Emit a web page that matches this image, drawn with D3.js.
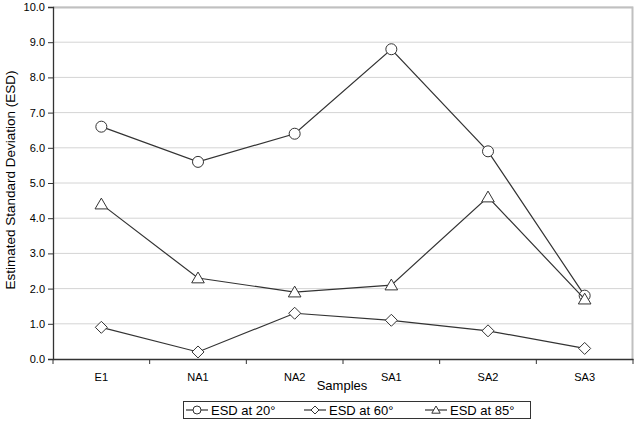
<!DOCTYPE html>
<html>
<head>
<meta charset="utf-8">
<script src="https://cdn.jsdelivr.net/npm/d3@7"></script>
<style>
  body { margin: 0; background: #fff; }
  text { font-family: "Liberation Sans", Arial, sans-serif; fill: #000; }
</style>
</head>
<body>
<div id="chart"></div>
<script>
const samples = ["E1", "NA1", "NA2", "SA1", "SA2", "SA3"];
const esd20 = [6.6, 5.6, 6.4, 8.8, 5.9, 1.8];
const esd60 = [0.9, 0.2, 1.3, 1.1, 0.8, 0.3];
const esd85 = [4.4, 2.3, 1.9, 2.1, 4.6, 1.7];
const yTicks = [0, 1, 2, 3, 4, 5, 6, 7, 8, 9, 10];

const series = [
  { name: "ESD at 20°", values: esd20, shape: "circle" },
  { name: "ESD at 60°", values: esd60, shape: "diamond" },
  { name: "ESD at 85°", values: esd85, shape: "triangle" }
];

const svgWidth = 636, svgHeight = 422;
const margin = { top: 7, right: 3, bottom: 63, left: 53 };
const width = svgWidth - margin.left - margin.right;
const height = svgHeight - margin.top - margin.bottom;

const svg = d3.select("#chart").append("svg")
  .attr("width", svgWidth)
  .attr("height", svgHeight);

const chart = svg.append("g")
  .attr("transform", `translate(${margin.left},${margin.top})`);

const x = d3.scaleBand().domain(samples).range([0, width]);
const y = d3.scaleLinear().domain([0, 10]).range([height, 0]);

// gridlines
chart.append("g").selectAll("line")
  .data(yTicks.slice(1))
  .join("line")
  .attr("x1", 0).attr("x2", width)
  .attr("y1", d => y(d)).attr("y2", d => y(d))
  .attr("stroke", "#d4d4d4").attr("stroke-width", 1);

// plot area border top/right
chart.append("path")
  .attr("d", `M0,0.5H${width - 0.5}V${height}`)
  .attr("fill", "none").attr("stroke", "#c0c0c0").attr("stroke-width", 2);

// y axis
const yAxis = chart.append("g")
  .call(d3.axisLeft(y).tickValues(yTicks).tickFormat(d3.format(".1f")).tickSize(5));
yAxis.select(".domain").attr("stroke", "#333").attr("stroke-width", 1.3);
yAxis.selectAll(".tick line").attr("stroke", "#333");
yAxis.selectAll("text").attr("font-size", 11).attr("x", -8)
  .style("font-family", "Liberation Sans, Arial, sans-serif");

// x axis
const xAxis = chart.append("g").attr("transform", `translate(0,${height})`)
  .call(d3.axisBottom(x).tickSize(0).tickPadding(14));
xAxis.select(".domain").attr("stroke", "#333").attr("stroke-width", 1.3);
xAxis.selectAll("text").attr("font-size", 11)
  .style("font-family", "Liberation Sans, Arial, sans-serif");
// category separator ticks
chart.append("g").selectAll("line")
  .data(d3.range(samples.length + 1))
  .join("line")
  .attr("x1", i => i * x.step()).attr("x2", i => i * x.step())
  .attr("y1", height).attr("y2", height + 5)
  .attr("stroke", "#333");

// axis titles
svg.append("text")
  .attr("x", 342)
  .attr("y", 390)
  .attr("text-anchor", "middle")
  .attr("font-size", 13)
  .text("Samples");

svg.append("text")
  .attr("transform", "rotate(-90)")
  .attr("x", -180)
  .attr("y", 15)
  .attr("text-anchor", "middle")
  .attr("font-size", 13.5)
  .text("Estimated Standard Deviation (ESD)");

function drawMarker(g, shape, r) {
  if (shape === "circle") {
    g.append("circle").attr("r", r);
  } else if (shape === "diamond") {
    g.append("path").attr("d", `M0,${-r}L${r},0L0,${r}L${-r},0Z`);
  } else {
    g.append("path").attr("d", `M0,${-r}L${r * 1.05},${r * 0.8}L${-r * 1.05},${r * 0.8}Z`);
  }
  g.selectAll("circle,path").attr("fill", "#fff").attr("stroke", "#333").attr("stroke-width", 1);
}

const line = d3.line()
  .x((d, i) => x(samples[i]) + x.bandwidth() / 2)
  .y(d => y(d));

series.forEach(s => {
  chart.append("path")
    .datum(s.values)
    .attr("d", line)
    .attr("fill", "none")
    .attr("stroke", "#333")
    .attr("stroke-width", 1.2);

  s.values.forEach((v, i) => {
    const g = chart.append("g")
      .attr("transform", `translate(${x(samples[i]) + x.bandwidth() / 2},${y(v)})`);
    drawMarker(g, s.shape, s.shape === "circle" ? 5.5 : 6);
  });
});

// legend
const legend = svg.append("g");
legend.append("rect")
  .attr("x", 183.5).attr("y", 401.5)
  .attr("width", 347).attr("height", 17)
  .attr("fill", "#fff").attr("stroke", "#333").attr("stroke-width", 1);

const legendX = [186, 304, 425];
series.forEach((s, i) => {
  const g = legend.append("g").attr("transform", `translate(${legendX[i]},410)`);
  g.append("line").attr("x1", 0).attr("x2", 22).attr("stroke", "#333").attr("stroke-width", 1.2);
  const m = g.append("g").attr("transform", "translate(11,0)");
  drawMarker(m, s.shape, 4);
  g.append("text").attr("x", 25).attr("y", 4.7).attr("font-size", 13).text(s.name);
});
</script>
</body>
</html>
